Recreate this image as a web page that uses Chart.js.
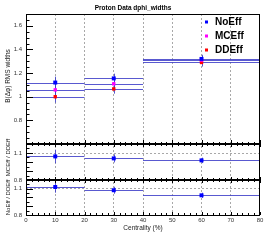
<!DOCTYPE html>
<html><head><meta charset="utf-8">
<script src="https://cdn.jsdelivr.net/npm/chart.js@4"></script>
<style>html,body{margin:0;padding:0;background:#fff;}#c{display:block;}</style>
</head><body>
<canvas id="c" width="266" height="240"></canvas>
<script>
// ---- data ----
const binLo = [0, 20, 40];
const binHi = [20, 40, 80];
const binCenter = [10, 30, 60];
const noEff = [1.12, 1.155, 1.32];
const noEffErr = [0.05, 0.04, 0.035];
const mcEff = [1.058, 1.109, 1.31];
const mcEffErr = [0.05, 0.04, 0.035];
const ddEff = [1.0, 1.066, 1.29];
const ddEffErr = [0.05, 0.04, 0.035];
const ratioMcDd = [1.062, 1.04, 1.018];
const ratioMcDdErr = [0.075, 0.045, 0.03];
const ratioNoDd = [1.12, 1.083, 1.025];
const ratioNoDdErr = [0.065, 0.04, 0.03];
const xTicks = [0, 10, 20, 30, 40, 50, 60, 70, 80];
const yTopTicks = [0.8, 1.0, 1.2, 1.4, 1.6];
const yRatioTicks = [0.8, 0.9, 1.0, 1.1, 1.2];

const lineColor = 'rgba(60,60,200,0.85)';
const pts = (v, e) => v.map((y, i) => ({x: binCenter[i], y: y, lo: binLo[i], hi: binHi[i], e: e[i]}));

const binPlugin = {
  id: 'bins',
  beforeDatasetsDraw(chart) {
    const ctx = chart.ctx, xs = chart.scales.x;
    chart.data.datasets.forEach(ds => {
      const ys = chart.scales[ds.yAxisID];
      ctx.save();
      ctx.strokeStyle = lineColor; ctx.lineWidth = 1;
      ds.data.forEach(p => {
        const y = Math.round(ys.getPixelForValue(p.y)) + 0.5;
        const x = Math.round(xs.getPixelForValue(p.x)) + 0.5;
        ctx.beginPath();
        ctx.moveTo(xs.getPixelForValue(p.lo), y); ctx.lineTo(xs.getPixelForValue(p.hi), y);
        ctx.moveTo(x, ys.getPixelForValue(p.y - p.e)); ctx.lineTo(x, ys.getPixelForValue(p.y + p.e));
        ctx.stroke();
      });
      ctx.restore();
    });
  },
  afterDraw(chart) {
    const ctx = chart.ctx, xs = chart.scales.x;
    const ca = chart.chartArea;
    ctx.save();
    ctx.strokeStyle = '#000'; ctx.lineWidth = 1;
    const pads = ['yTop', 'yMid', 'yBot'].map(id => chart.scales[id]);
    pads.forEach((s, k) => {
      const top = Math.round(s.top), bot = Math.round(s.bottom);
      ctx.strokeRect(ca.left + 0.5, top + 0.5, ca.right - ca.left - 1, bot - top);
      const step = 0.05;
      const min = s.min, max = s.max;
      ctx.beginPath();
      for (let v = Math.ceil(min / step) * step; v <= max + 1e-9; v += step) {
        const y = Math.round(s.getPixelForValue(v)) + 0.5;
        const major = Math.abs(v / 0.1 - Math.round(v / 0.1)) < 1e-6 && (k > 0 || Math.abs(v / 0.2 - Math.round(v / 0.2)) < 1e-6);
        const len = major ? 7 : 3.5;
        ctx.moveTo(ca.left, y); ctx.lineTo(ca.left + len, y);
      }
      for (let v = 0; v <= 80; v += 2) {
        const x = Math.round(xs.getPixelForValue(v)) + 0.5;
        const len = v % 10 === 0 ? (k === 0 ? 4 : 3) : 2;
        ctx.moveTo(x, bot); ctx.lineTo(x, bot - len);
        if (k < 2) { ctx.moveTo(x, bot); ctx.lineTo(x, bot + (v % 10 === 0 ? 3 : 2)); }
      }
      ctx.stroke();
      if (k < 2) {
        ctx.lineWidth = 2;
        ctx.beginPath(); ctx.moveTo(ca.left, bot); ctx.lineTo(ca.right, bot); ctx.stroke();
        ctx.lineWidth = 1;
      }
    });
    // legend
    const items = chart.data.datasets.filter(d => d.yAxisID === 'yTop');
    const ly = [22, 36, 50];
    ctx.font = 'bold 10px "Liberation Sans", Arial, sans-serif';
    ctx.textBaseline = 'middle'; ctx.textAlign = 'left';
    items.forEach((d, i) => {
      ctx.fillStyle = d.backgroundColor;
      ctx.fillRect(205, ly[i] - 1.5, 3, 3);
      ctx.fillStyle = '#000';
      ctx.fillText(d.label, 215, ly[i] + 0.5);
    });
    // title
    ctx.font = 'bold 6.5px "Liberation Sans", Arial, sans-serif';
    ctx.textAlign = 'center';
    ctx.fillText('Proton Data dphi_widths', 133, 8);
    // axis titles
    ctx.font = '6.5px "Liberation Sans", Arial, sans-serif';
    ctx.fillStyle = '#222';
    ctx.fillText('Centrality (%)', 143, 228);
    ctx.save();
    ctx.translate(8, 76); ctx.rotate(-Math.PI / 2);
    ctx.fillText('B(\u0394\u03c6) RMS widths', 0, 0);
    ctx.restore();
    ctx.save();
    ctx.translate(8, 177); ctx.rotate(-Math.PI / 2);
    ctx.font = '6px "Liberation Sans", Arial, sans-serif';
    ctx.fillText('NoEff / DDEff  MCEff / DDEff', 0, 0);
    ctx.restore();
    ctx.restore();
  }
};

const tickFont = {family: '"Liberation Sans", Arial, sans-serif', size: 6};
function yScale(weight, min, max, ticks, gridOn) {
  return {
    type: 'linear', position: 'left', stack: 'pads', stackWeight: weight,
    min: min, max: max, offset: false,
    afterBuildTicks: s => { s.ticks = ticks.map(v => ({value: v})); },
    afterFit: s => { s.width = 26; },
    border: {display: false, dash: [2, 2]},
    grid: {
      drawTicks: false, drawOnChartArea: gridOn,
      color: ctx => (ctx.tick && (ctx.tick.value > min + 1e-6 && ctx.tick.value < max - 1e-6)) ? '#a8a8a8' : 'rgba(0,0,0,0)',
      lineWidth: 1
    },
    ticks: {
      padding: 4, font: tickFont, color: '#333',
      callback: v => String(Math.round(v * 10) / 10)
    }
  };
}

new Chart(document.getElementById('c'), {
  type: 'scatter',
  data: {
    datasets: [
      {label: 'NoEff', yAxisID: 'yTop', data: pts(noEff, noEffErr), backgroundColor: '#0000ff', borderColor: '#0000ff', pointStyle: 'rect', pointRadius: 2.8, borderWidth: 0},
      {label: 'MCEff', yAxisID: 'yTop', data: pts(mcEff, mcEffErr), backgroundColor: '#ff00ff', borderColor: '#ff00ff', pointStyle: 'rect', pointRadius: 2.4, borderWidth: 0},
      {label: 'DDEff', yAxisID: 'yTop', data: pts(ddEff, ddEffErr), backgroundColor: '#ff0000', borderColor: '#ff0000', pointStyle: 'rect', pointRadius: 2.4, borderWidth: 0},
      {label: 'MCEff / DDEff', yAxisID: 'yMid', data: pts(ratioMcDd, ratioMcDdErr), backgroundColor: '#0000ff', borderColor: '#0000ff', pointStyle: 'rect', pointRadius: 2.8, borderWidth: 0},
      {label: 'NoEff / DDEff', yAxisID: 'yBot', data: pts(ratioNoDd, ratioNoDdErr), backgroundColor: '#0000ff', borderColor: '#0000ff', pointStyle: 'rect', pointRadius: 2.8, borderWidth: 0}
    ]
  },
  options: {
    responsive: false, animation: false, devicePixelRatio: 1,
    layout: {padding: {top: 14, right: 6, left: 0, bottom: 0}},
    plugins: {legend: {display: false}, tooltip: {enabled: false}},
    scales: {
      yBot: yScale(35, 0.8, 1.2, yRatioTicks, true),
      yMid: yScale(36, 0.8, 1.2, yRatioTicks, true),
      yTop: yScale(130, 0.6, 1.7, yTopTicks, false),
      x: {
        type: 'linear', position: 'bottom', min: 0, max: 80,
        afterBuildTicks: s => { s.ticks = xTicks.map(v => ({value: v})); },
        afterFit: s => { s.height = 25; },
        border: {display: false, dash: [2, 2]},
        grid: {drawTicks: false, color: ctx => (ctx.tick && ctx.tick.value > 0 && ctx.tick.value < 80) ? '#a8a8a8' : 'rgba(0,0,0,0)'},
        ticks: {padding: 2, font: tickFont, color: '#333', maxRotation: 0}
      }
    }
  },
  plugins: [binPlugin]
});
</script>
</body></html>
